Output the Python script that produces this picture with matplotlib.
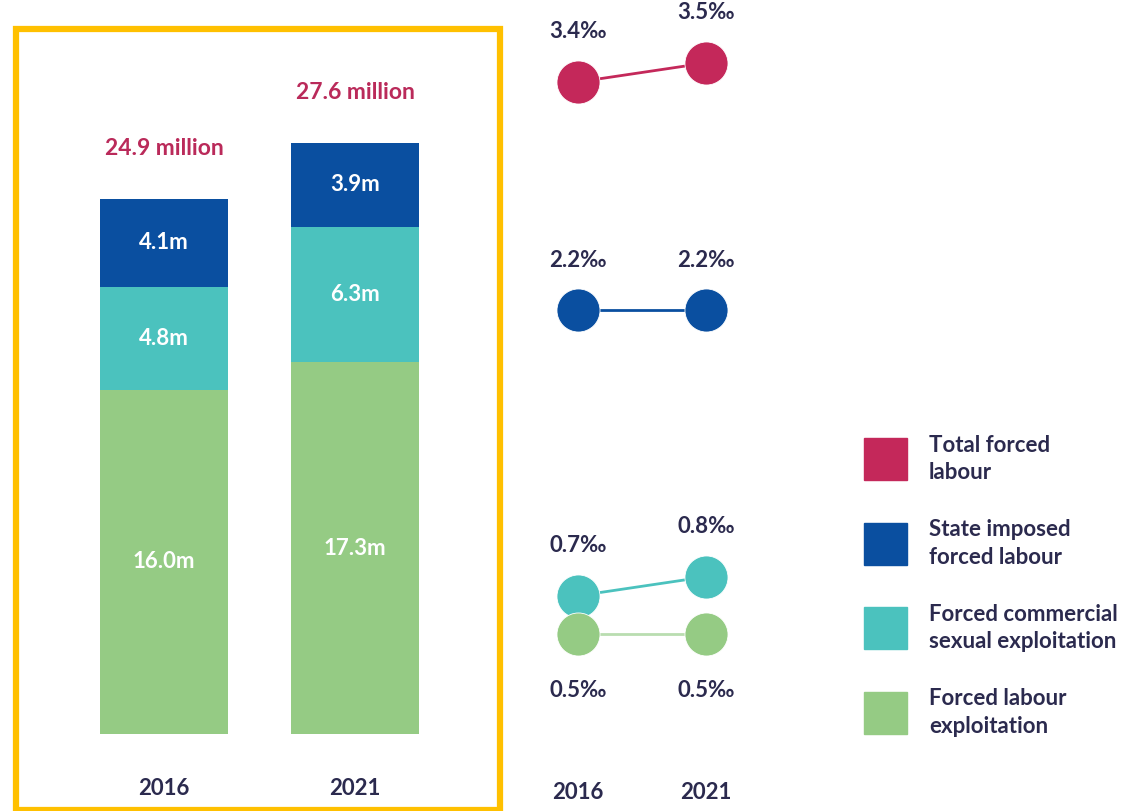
import numpy as np
import matplotlib.pyplot as plt
from matplotlib.patches import Rectangle

plt.rcParams['font.family'] = ['Lato', 'DejaVu Sans']
plt.rcParams['font.weight'] = 'bold'

# data
years = ['2016', '2021']
labour_expl = [16.0, 17.3]
sexual_expl = [4.8, 6.3]
state_imposed = [4.1, 3.9]
totals = [24.9, 27.6]

rate_total = [3.4, 3.5]
rate_state = [2.2, 2.2]
rate_sexual = [0.7, 0.8]
rate_labour = [0.5, 0.5]

legend_names = ['Total forced\nlabour', 'State imposed\nforced labour',
                'Forced commercial\nsexual exploitation', 'Forced labour\nexploitation']

RED = '#C4285A'
BLUE = '#0A4FA0'
TEAL = '#4BC2BE'
GREEN = '#95CB84'
DARK = '#2B2A4E'
LABEL_RED = '#BA2A5A'

W, H = 1130, 811
fig = plt.figure(figsize=(W / 100, H / 100), dpi=100)

def px_axes(x0, y_top, x1, y_bot):
    return fig.add_axes([x0 / W, 1 - y_bot / H, (x1 - x0) / W, (y_bot - y_top) / H])

# ---- stacked bars
ax = px_axes(14, 734 - 30 * 21.5, 500, 734)
ax.set_xlim((14 - 164) / 191, (500 - 164) / 191)
ax.set_ylim(0, 30)
x = np.arange(len(years))
bw = 128 / 191
b1 = np.array(labour_expl)
b2 = b1 + np.array(sexual_expl)
ax.bar(x, labour_expl, bw, color=GREEN)
ax.bar(x, sexual_expl, bw, bottom=b1, color=TEAL)
ax.bar(x, state_imposed, bw, bottom=b2, color=BLUE)
for i in range(len(years)):
    ax.text(x[i], labour_expl[i] / 2, '%.1fm' % labour_expl[i], color='white',
            ha='center', va='center', fontsize=16)
    ax.text(x[i], b1[i] + sexual_expl[i] / 2, '%.1fm' % sexual_expl[i], color='white',
            ha='center', va='center', fontsize=16)
    ax.text(x[i], b2[i] + state_imposed[i] / 2, '%.1fm' % state_imposed[i], color='white',
            ha='center', va='center', fontsize=16)
    ax.annotate('%.1f million' % totals[i], (x[i], b2[i] + state_imposed[i]),
                xytext=(0, 36), textcoords='offset points', ha='center', va='center',
                color=LABEL_RED, fontsize=16.5)
ax.set_xticks(x)
ax.set_xticklabels(years, color=DARK, fontsize=16)
ax.tick_params(length=0, pad=32)
ax.set_yticks([])
for s in ax.spines.values():
    s.set_visible(False)
ax.patch.set_visible(False)

# yellow frame
fig.patches.append(Rectangle((16 / W, 1 - 810 / H), (500 - 16) / W, (810 - 29) / H,
                             transform=fig.transFigure, fill=False,
                             edgecolor='#FFC000', linewidth=4.5))

# ---- dot plot
ax2 = px_axes(520, 729 - 3.8 * 190.3, 780, 729)
ax2.set_xlim(-58 / 128, 202 / 128)
ax2.set_ylim(0, 3.8)
series = [(rate_total, RED, RED, 'above'),
          (rate_state, BLUE, BLUE, 'above'),
          (rate_sexual, TEAL, TEAL, 'above'),
          (rate_labour, GREEN, '#B9DDB0', 'below')]
for vals, c, lc, pos in series:
    ax2.plot(x, vals, color=lc, lw=2, zorder=1)
    ax2.plot(x, vals, 'o', color=c, ms=31, mec='white', mew=0.6, zorder=2, clip_on=False)
    for i in range(len(x)):
        dy = 36 if pos == 'above' else -41
        ax2.annotate('%.1f‰' % vals[i], (x[i], vals[i]), xytext=(0, dy),
                     textcoords='offset points', ha='center', va='center',
                     color=DARK, fontsize=16)
ax2.set_xticks(x)
ax2.set_xticklabels(years, color=DARK, fontsize=16)
ax2.tick_params(length=0, pad=38)
ax2.set_yticks([])
for s in ax2.spines.values():
    s.set_visible(False)
ax2.patch.set_visible(False)

# ---- legend
leg_colors = [RED, BLUE, TEAL, GREEN]
for k, (name, c) in enumerate(zip(legend_names, leg_colors)):
    top = 438 + k * 84.5
    fig.patches.append(Rectangle((864 / W, 1 - (top + 42) / H), 43 / W, 42 / H,
                                 transform=fig.transFigure, color=c))
    fig.text(929 / W, 1 - (top + 21) / H, name, ha='left', va='center',
             color=DARK, fontsize=16, linespacing=1.4)

fig.savefig('out.png', dpi=100)
